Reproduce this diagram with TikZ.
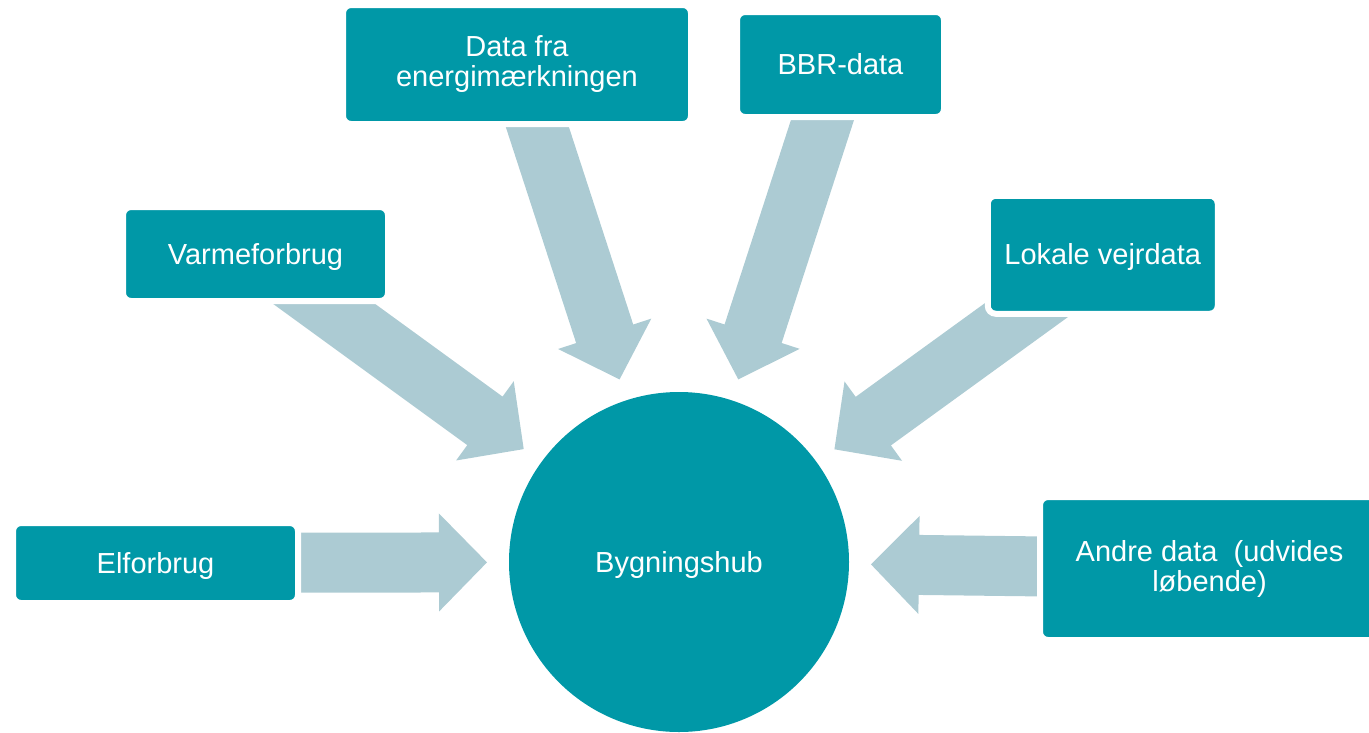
\documentclass[tikz,border=0pt]{standalone}
\usepackage{fontspec}
\setmainfont{Liberation Sans}
\usetikzlibrary{calc,backgrounds}
\definecolor{hubteal}{RGB}{0,152,167}
\definecolor{arrowblue}{RGB}{172,203,211}
\newcommand\hubarrow[1]{%
  \coordinate (#1-tip) at ($(hub.center)!192pt!(#1.center)$);
  \coordinate (#1-hb) at ($(#1-tip)!48pt!(#1.center)$);
  \fill[arrowfill] ($(#1.center)!30pt!90:(#1-tip)$) -- ($(#1-hb)!30pt!90:(#1-tip)$)
    -- ($(#1-hb)!49pt!90:(#1-tip)$) -- (#1-tip) -- ($(#1-hb)!49pt!-90:(#1-tip)$)
    -- ($(#1-hb)!30pt!-90:(#1-tip)$) -- ($(#1.center)!30pt!-90:(#1-tip)$) -- cycle;
}
\begin{document}
\begin{tikzpicture}[x=1pt,y=-1pt,
  every node/.style={font=\fontsize{29}{30}\selectfont, text=white},
  srcbox/.style={rectangle, rounded corners=8pt, fill=hubteal, draw=white, line width=6pt, align=center},
  oneline/.style={text height=26pt, text depth=6pt},
  hubnode/.style={circle, fill=hubteal, minimum size=340pt, inner sep=0pt},
  arrowfill/.style={fill=arrowblue}]
\useasboundingbox (0,0) rectangle (1369,732);
\clip (0,0) rectangle (1369,732);

\node[hubnode, oneline] (hub) at (679,562) {Bygningshub};

\node[srcbox, oneline, minimum width=285pt, minimum height=80pt] (el) at (155.5,563) {Elforbrug};
\node[srcbox, oneline, minimum width=265pt, minimum height=94pt] (varme) at (255.5,254) {Varmeforbrug};
\node[srcbox, minimum width=348pt, minimum height=119pt] (energi) at (517,64.5) {Data fra\\energimærkningen};
\node[srcbox, oneline, minimum width=207pt, minimum height=105pt] (bbr) at (840.5,64.5) {BBR-data};
\node[srcbox, oneline, minimum width=230pt, minimum height=118pt] (vejr) at (1102.75,254.75) {Lokale vejrdata};
\node[srcbox, minimum width=339pt, minimum height=143pt] (andre) at (1209.5,568.5) {Andre data~ (udvides\\løbende)};

\begin{scope}[on background layer]
  \hubarrow{el}
  \hubarrow{varme}
  \hubarrow{energi}
  \hubarrow{bbr}
  \hubarrow{vejr}
  \hubarrow{andre}
\end{scope}
\end{tikzpicture}
\end{document}
